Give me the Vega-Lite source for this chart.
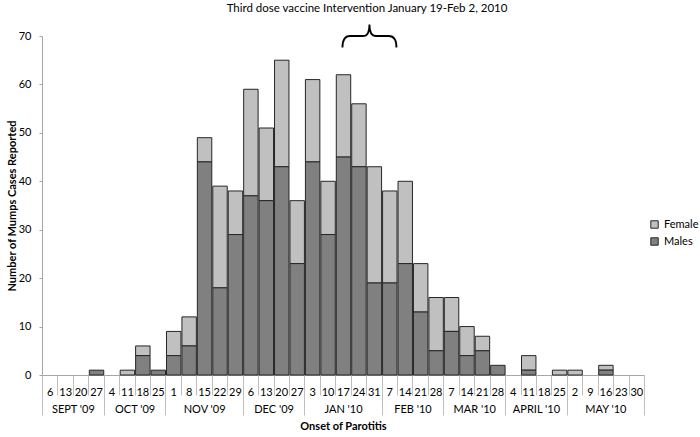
{
  "$schema": "https://vega.github.io/schema/vega-lite/v6.json",
  "autosize": "none",
  "width": 602,
  "height": 339,
  "padding": {"left": 42, "top": 36, "right": 56, "bottom": 62},
  "background": "white",
  "config": {
    "font": "Lato",
    "view": {"stroke": null},
    "axis": {"labelColor": "#000", "titleColor": "#000", "labelFont": "Lato", "titleFont": "Lato", "labelFontSize": 11, "titleFontSize": 11, "grid": false}
  },
  "title": {
    "text": "Third dose vaccine Intervention January 19-Feb 2, 2010",
    "font": "Lato",
    "fontSize": 11.5,
    "fontWeight": "normal",
    "color": "#000",
    "anchor": "middle",
    "frame": "group",
    "offset": 6,
    "dx": 24
  },
  "datasets": {
    "weekly": [
      {"week": "2009-09-06", "Males": 0, "Female": 0},
      {"week": "2009-09-13", "Males": 0, "Female": 0},
      {"week": "2009-09-20", "Males": 0, "Female": 0},
      {"week": "2009-09-27", "Males": 1, "Female": 0},
      {"week": "2009-10-04", "Males": 0, "Female": 0},
      {"week": "2009-10-11", "Males": 0, "Female": 1},
      {"week": "2009-10-18", "Males": 4, "Female": 2},
      {"week": "2009-10-25", "Males": 1, "Female": 0},
      {"week": "2009-11-01", "Males": 4, "Female": 5},
      {"week": "2009-11-08", "Males": 6, "Female": 6},
      {"week": "2009-11-15", "Males": 44, "Female": 5},
      {"week": "2009-11-22", "Males": 18, "Female": 21},
      {"week": "2009-11-29", "Males": 29, "Female": 9},
      {"week": "2009-12-06", "Males": 37, "Female": 22},
      {"week": "2009-12-13", "Males": 36, "Female": 15},
      {"week": "2009-12-20", "Males": 43, "Female": 22},
      {"week": "2009-12-27", "Males": 23, "Female": 13},
      {"week": "2010-01-03", "Males": 44, "Female": 17},
      {"week": "2010-01-10", "Males": 29, "Female": 11},
      {"week": "2010-01-17", "Males": 45, "Female": 17},
      {"week": "2010-01-24", "Males": 43, "Female": 13},
      {"week": "2010-01-31", "Males": 19, "Female": 24},
      {"week": "2010-02-07", "Males": 19, "Female": 19},
      {"week": "2010-02-14", "Males": 23, "Female": 17},
      {"week": "2010-02-21", "Males": 13, "Female": 10},
      {"week": "2010-02-28", "Males": 5, "Female": 11},
      {"week": "2010-03-07", "Males": 9, "Female": 7},
      {"week": "2010-03-14", "Males": 4, "Female": 6},
      {"week": "2010-03-21", "Males": 5, "Female": 3},
      {"week": "2010-03-28", "Males": 2, "Female": 0},
      {"week": "2010-04-04", "Males": 0, "Female": 0},
      {"week": "2010-04-11", "Males": 1, "Female": 3},
      {"week": "2010-04-18", "Males": 0, "Female": 0},
      {"week": "2010-04-25", "Males": 0, "Female": 1},
      {"week": "2010-05-02", "Males": 0, "Female": 1},
      {"week": "2010-05-09", "Males": 0, "Female": 0},
      {"week": "2010-05-16", "Males": 1, "Female": 1},
      {"week": "2010-05-23", "Males": 0, "Female": 0},
      {"week": "2010-05-30", "Males": 0, "Female": 0}
    ]
  },
  "layer": [
    {
      "data": {"name": "weekly"},
      "transform": [
        {"fold": ["Female", "Males"], "as": ["Sex", "Cases"]},
        {"filter": "datum.Cases > 0"}
      ],
      "mark": {"type": "bar", "stroke": "#262626", "strokeWidth": 1},
      "encoding": {
        "x": {
          "field": "week",
          "timeUnit": "utcyearweek",
          "type": "temporal",
          "scale": {
            "type": "utc",
            "domain": [
              {"year": 2009, "month": 9, "date": 6, "utc": true},
              {"year": 2010, "month": 6, "date": 6, "utc": true}
            ],
            "nice": false
          },
          "axis": {
            "orient": "bottom",
            "title": null,
            "tickCount": {"interval": "week", "step": 1},
            "labelExpr": "utcmonth(datum.value) == 5 ? '' : utcdate(datum.value)",
            "labelOffset": 7.7,
            "labelFlush": false,
            "labelOverlap": false,
            "labelBound": false,
            "tickSize": 20,
            "tickColor": "#bfbfbf",
            "tickWidth": 1,
            "domainColor": "#a6a6a6",
            "labelPadding": -9
          }
        },
        "y": {
          "field": "Cases",
          "type": "quantitative",
          "stack": "zero",
          "scale": {"domain": [0, 70], "nice": false},
          "axis": {
            "values": [0, 10, 20, 30, 40, 50, 60, 70],
            "tickSize": 3,
            "tickColor": "#a6a6a6",
            "domainColor": "#a6a6a6",
            "labelPadding": 8,
            "title": "Number of Mumps Cases Reported",
            "titleFontWeight": "bold",
            "titlePadding": 1
          }
        },
        "color": {
          "field": "Sex",
          "type": "nominal",
          "scale": {"domain": ["Female", "Males"], "range": ["#c0c0c0", "#808080"]},
          "legend": {
            "title": null,
            "orient": "none",
            "legendX": 607,
            "legendY": 183,
            "padding": 0,
            "symbolType": "square",
            "symbolSize": 55,
            "symbolStrokeColor": "#262626",
            "symbolStrokeWidth": 1,
            "labelFontSize": 11,
            "labelFont": "Lato",
            "labelColor": "#000",
            "labelOffset": 4,
            "rowPadding": 4
          }
        },
        "order": {"field": "Sex", "sort": "descending"}
      }
    },
    {
      "data": {"values": [{"note": "Third dose vaccine intervention"}]},
      "mark": {
        "type": "point",
        "shape": "M -1 0.43 Q -1 0 -0.72 0 L -0.24 0 Q 0 0 0 -0.43 Q 0 0 0.24 0 L 0.72 0 Q 1 0 1 0.43",
        "size": 2916,
        "filled": false,
        "fill": null,
        "stroke": "#000",
        "strokeWidth": 1.8,
        "opacity": 1
      },
      "encoding": {
        "x": {
          "datum": {"year": 2010, "month": 2, "date": 1, "hours": 12, "utc": true},
          "type": "temporal",
          "scale": {"type": "utc"},
          "axis": {
            "orient": "bottom",
            "title": null,
            "values": [
              {"year": 2009, "month": 9, "date": 6, "utc": true},
              {"year": 2009, "month": 10, "date": 4, "utc": true},
              {"year": 2009, "month": 11, "date": 1, "utc": true},
              {"year": 2009, "month": 12, "date": 6, "utc": true},
              {"year": 2010, "month": 1, "date": 3, "utc": true},
              {"year": 2010, "month": 2, "date": 7, "utc": true},
              {"year": 2010, "month": 3, "date": 7, "utc": true},
              {"year": 2010, "month": 4, "date": 4, "utc": true},
              {"year": 2010, "month": 5, "date": 2, "utc": true},
              {"year": 2010, "month": 6, "date": 6, "utc": true}
            ],
            "labels": false,
            "domain": false,
            "tickSize": 40,
            "tickColor": "#bfbfbf",
            "tickWidth": 1
          }
        },
        "y": {"datum": 70, "type": "quantitative"}
      }
    },
    {
      "data": {"values": [{"note": "months"}]},
      "mark": {"type": "text", "text": ""},
      "encoding": {
        "x": {
          "datum": {"year": 2010, "month": 2, "date": 1, "hours": 12, "utc": true},
          "type": "temporal",
          "scale": {"type": "utc"},
          "axis": {
            "orient": "bottom",
            "title": "Onset of Parotitis",
            "titleFontWeight": "bold",
            "titlePadding": 6,
            "values": [
              {"year": 2009, "month": 9, "date": 20, "utc": true},
              {"year": 2009, "month": 10, "date": 18, "utc": true},
              {"year": 2009, "month": 11, "date": 18, "hours": 12, "utc": true},
              {"year": 2009, "month": 12, "date": 20, "utc": true},
              {"year": 2010, "month": 1, "date": 20, "hours": 12, "utc": true},
              {"year": 2010, "month": 2, "date": 21, "utc": true},
              {"year": 2010, "month": 3, "date": 21, "utc": true},
              {"year": 2010, "month": 4, "date": 18, "utc": true},
              {"year": 2010, "month": 5, "date": 19, "hours": 12, "utc": true}
            ],
            "labelExpr": "[\"JAN '10\", \"FEB '10\", \"MAR '10\", \"APRIL '10\", \"MAY '10\", '', '', '', \"SEPT '09\", \"OCT '09\", \"NOV '09\", \"DEC '09\"][utcmonth(datum.value)]",
            "ticks": false,
            "domain": false,
            "labelPadding": 28,
            "labelFlush": false,
            "labelOverlap": false,
            "labelBound": false
          }
        }
      }
    }
  ],
  "resolve": {"axis": {"x": "independent"}}
}
